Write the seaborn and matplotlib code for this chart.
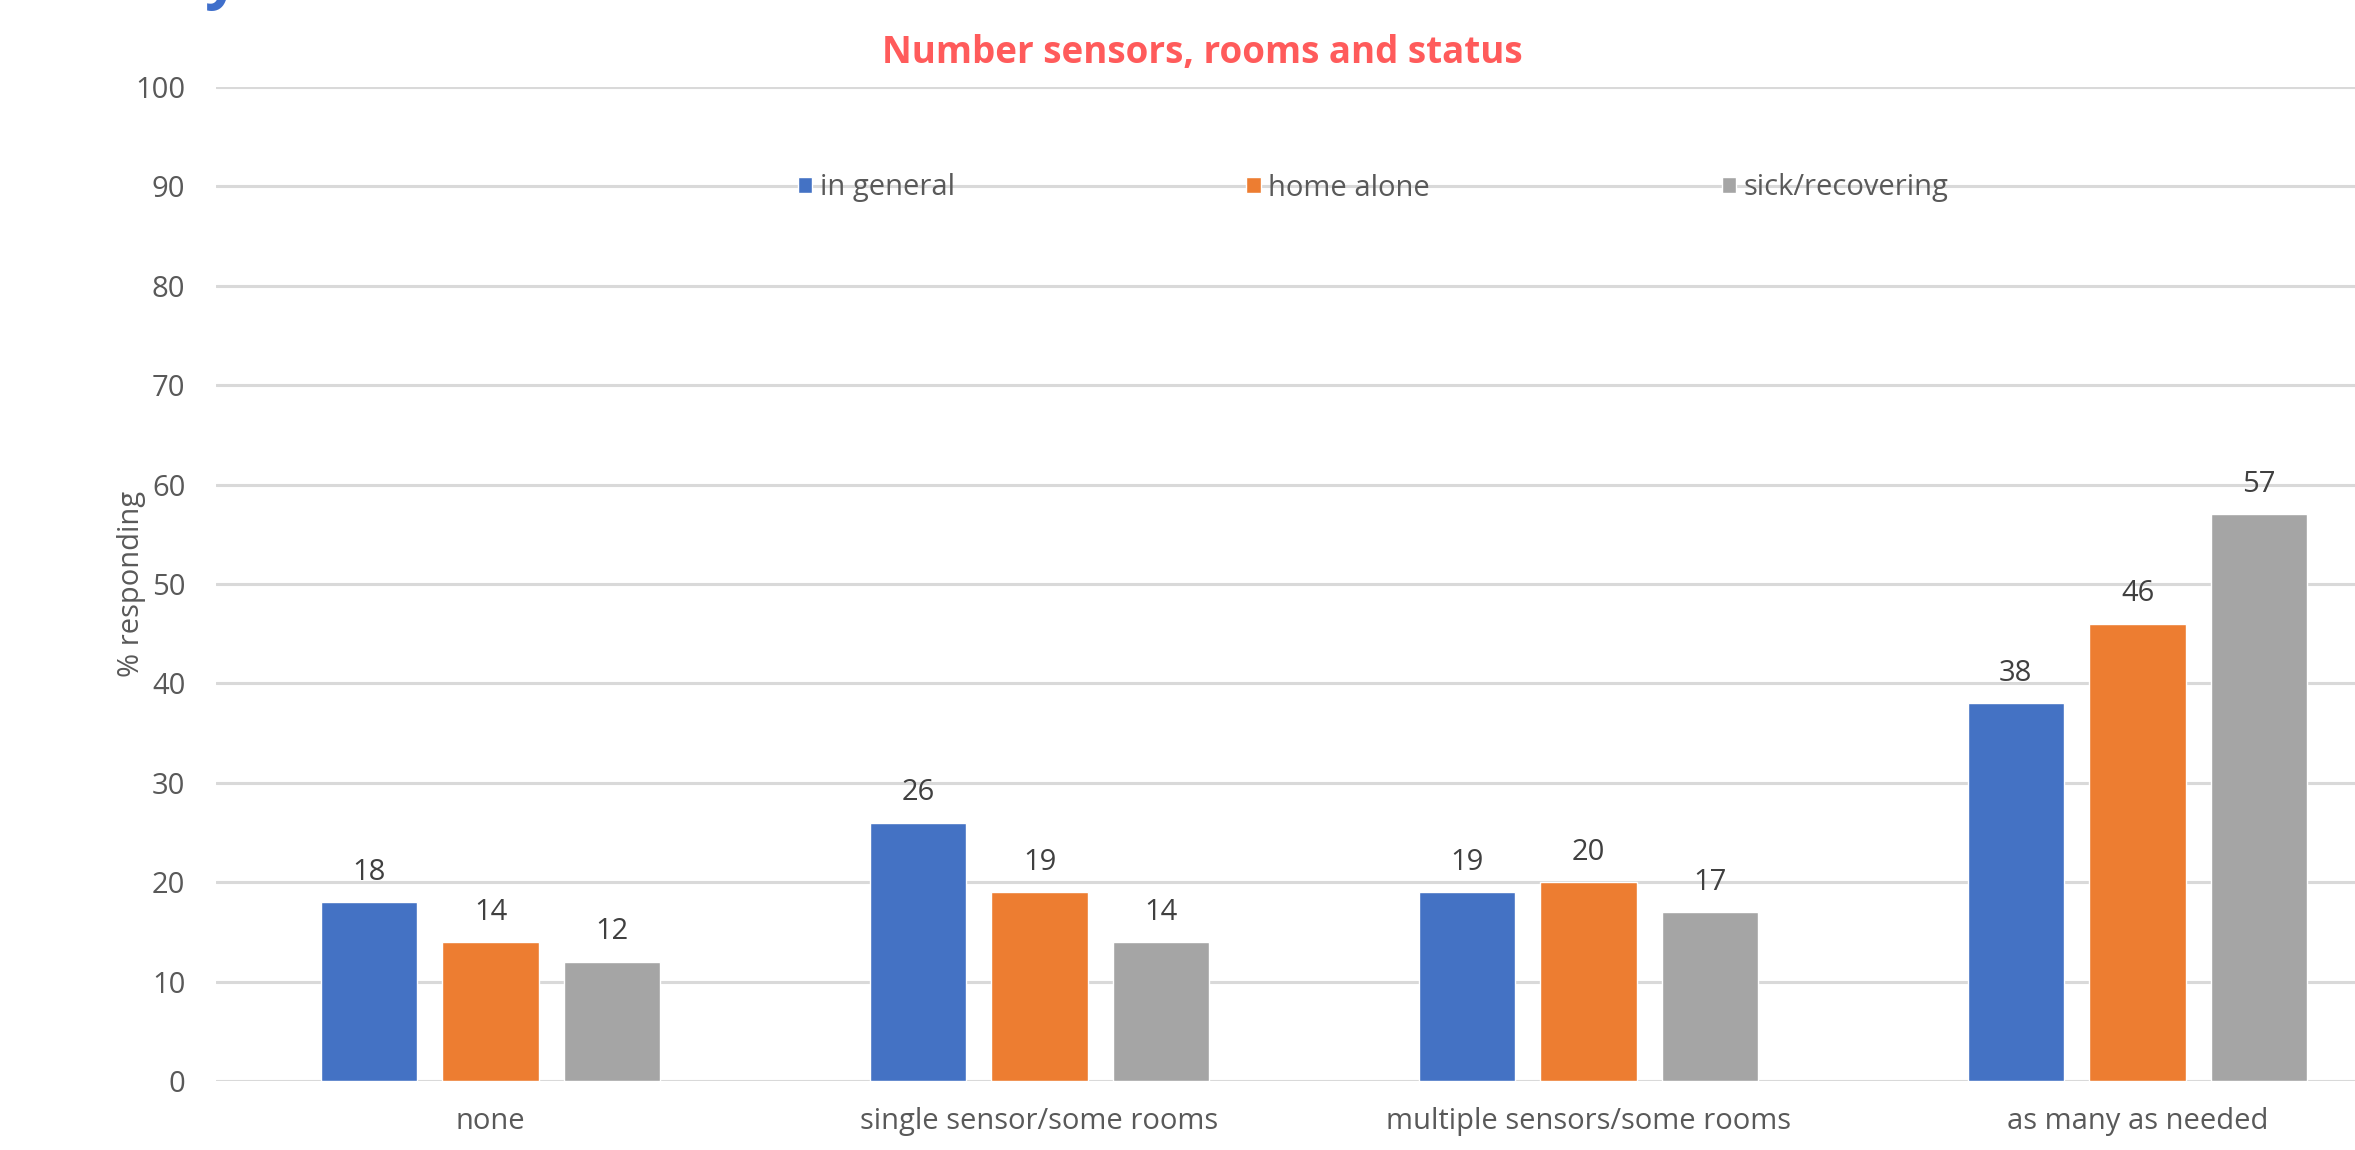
import matplotlib
matplotlib.use("Agg")
import matplotlib.pyplot as plt
import seaborn as sns
import pandas as pd

categories = ["none", "single sensor/some rooms", "multiple sensors/some rooms", "as many as needed"]
series = ["in general", "home alone", "sick/recovering"]
in_general = [18, 26, 19, 38]
home_alone = [14, 19, 20, 46]
sick_recovering = [12, 14, 17, 57]
yticks = [0, 10, 20, 30, 40, 50, 60, 70, 80, 90, 100]
colors = ["#4472C4", "#ED7D31", "#A5A5A5"]

rows = []
for s, vals in zip(series, [in_general, home_alone, sick_recovering]):
    for c, v in zip(categories, vals):
        rows.append({"category": c, "series": s, "value": v})
df = pd.DataFrame(rows)

sns.set_theme(style="white")
plt.rcParams['font.family'] = ['Open Sans', 'DejaVu Sans']

W, H = 2355, 1150
fig = plt.figure(figsize=(W / 100, H / 100), dpi=100)
ax = fig.add_axes([216 / W, 1 - 1081 / H, 2196 / W, (1081 - 87) / H])

sns.barplot(data=df, x="category", y="value", hue="series", order=categories,
            hue_order=series, palette=colors, width=0.665, gap=0.21,
            errorbar=None, ax=ax, saturation=1, legend=True)

for cont in ax.containers:
    ax.bar_label(cont, fmt="%g", padding=11, fontsize=21, color="#404040")

ax.set_ylim(0, 100)
ax.set_xlim(-0.5, 3.5)
ax.set_yticks(yticks)
ax.yaxis.grid(True, color="#D9D9D9", linewidth=2.2)
ax.set_axisbelow(True)
for sp in ax.spines.values():
    sp.set_visible(False)
ax.tick_params(axis="y", length=0, pad=22, labelsize=21, labelcolor="#595959")
ax.tick_params(axis="x", length=0, pad=19, labelsize=21, labelcolor="#595959")
ax.set_xlabel("")
ax.set_ylabel("% responding", fontsize=21, color="#595959")
ax.yaxis.set_label_coords((132 - 216) / 2196, 0.5)
ax.yaxis.label.set_va("center")

handles, labels = ax.get_legend_handles_labels()
ax.legend(handles, labels, ncol=3, frameon=False, loc="center",
          bbox_to_anchor=(1373 / W, 1 - 188 / H), bbox_transform=fig.transFigure,
          fontsize=21, labelcolor="#595959", handlelength=0.5, handleheight=0.5,
          handletextpad=0.25, columnspacing=10.0)

fig.text(1202 / W, 1 - 53 / H, "Number sensors, rooms and status", ha="center", va="center",
         fontsize=26.5, fontweight="bold", color="#FF5B5B")

# descender of a clipped slide title above the crop
fig.text(205 / W, 1 + 4 / H, "y", ha="left", va="baseline", fontsize=44,
         fontweight="bold", color="#3F6FCB")

fig.savefig("out.png", dpi=100)
